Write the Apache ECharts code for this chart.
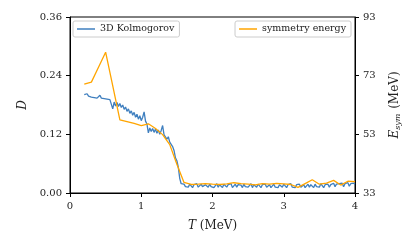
<!DOCTYPE html>
<html><head><meta charset="utf-8">
<script src="https://cdn.jsdelivr.net/npm/echarts@6/dist/echarts.min.js"></script>
<style>html,body{margin:0;padding:0;background:#fff}#c{width:416px;height:252px}</style>
</head><body><div id="c"></div>
<script>
// Kolmogorov D values, T from 0.20 to 4.00 step 0.02
var kolmoStart = 0.2, kolmoStep = 0.02;
var kolmoD = [
0.201,0.197,0.203,0.198,0.201,0.196,0.200,0.195,0.199,0.194,
0.198,0.200,0.194,0.198,0.193,0.197,0.192,0.196,0.191,0.189,
0.172,0.186,0.178,0.185,0.177,0.183,0.175,0.180,0.171,0.176,
0.167,0.172,0.163,0.168,0.159,0.165,0.155,0.161,0.151,0.158,
0.148,0.155,0.166,0.147,0.141,0.123,0.133,0.126,0.132,0.124,
0.131,0.122,0.129,0.120,0.128,0.138,0.119,0.118,0.110,0.115,
0.104,0.105,0.095,0.087,0.072,0.066,0.053,0.030,0.019,0.015,
0.018,0.013,0.017,0.012,0.018,0.015,0.011,0.017,0.013,0.019,
0.012,0.015,0.018,0.013,0.011,0.017,0.015,0.012,0.018,0.013,
0.017,0.011,0.015,0.019,0.012,0.017,0.013,0.011,0.018,0.015,
0.012,0.017,0.013,0.019,0.011,0.015,0.018,0.012,0.017,0.013,
0.016,0.011,0.018,0.013,0.017,0.012,0.015,0.019,0.011,0.017,
0.013,0.012,0.018,0.015,0.011,0.017,0.013,0.018,0.012,0.015,
0.017,0.011,0.014,0.018,0.012,0.015,0.011,0.017,0.013,0.012,
0.018,0.015,0.011,0.017,0.013,0.019,0.012,0.015,0.011,0.017,
0.013,0.018,0.012,0.015,0.017,0.011,0.014,0.018,0.012,0.017,
0.015,0.011,0.018,0.013,0.017,0.012,0.019,0.015,0.011,0.017,
0.013,0.018,0.012,0.017,0.015,0.020,0.013,0.018,0.014,0.019,
0.015,0.020,0.013,0.019,0.015,0.021,0.014,0.019,0.016,0.020,
0.018
];
// Symmetry energy (MeV), T from 0.2 to 4.0 step 0.1
var symStart = 0.2, symStep = 0.1;
var symE = [
70.1,70.8,75.9,81.0,69.5,57.9,57.3,56.7,56.0,56.6,
55.0,52.9,49.5,42.8,36.6,35.9,36.0,36.2,36.0,35.9,
36.1,36.5,36.2,36.0,35.8,36.2,36.0,36.3,36.1,35.9,
34.9,36.2,37.5,36.0,36.4,37.3,35.7,37.0,36.9
];
var xTicks = [0,1,2,3,4];
var leftTicks = [0,0.12,0.24,0.36];
var rightTicks = [33,53,73,93];

function pairs(start, step, vals){
  return vals.map(function(v,i){ return [+(start + i*step).toFixed(3), v]; });
}
var FONT = 'DejaVu Serif';
var chart = echarts.init(document.getElementById('c'), null, {renderer:'canvas'});
var axisCommon = {
  axisLine:{show:true, lineStyle:{color:'#000', width:1}},
  axisTick:{show:true, inside:false, length:4, lineStyle:{color:'#000'}},
  axisLabel:{color:'#222', fontFamily:FONT, fontSize:10},
  splitLine:{show:false}
};
chart.setOption({
  animation:false,
  grid:{left:70, right:61, top:17, bottom:59, show:true, borderColor:'#000', borderWidth:1},
  legend:[
    {data:['3D Kolmogorov'], left:73, top:21, orient:'horizontal',
     icon:'rect', itemWidth:18, itemHeight:1.5, itemGap:6,
     padding:[3,5,3,4], borderColor:'#ccc', borderWidth:1, borderRadius:2,
     textStyle:{fontFamily:FONT, fontSize:9.5, color:'#222'}},
    {data:['symmetry energy'], right:65, top:21, orient:'horizontal',
     icon:'rect', itemWidth:18, itemHeight:1.5, itemGap:6,
     padding:[3,5,3,4], borderColor:'#ccc', borderWidth:1, borderRadius:2,
     textStyle:{fontFamily:FONT, fontSize:9.5, color:'#222'}}
  ],
  xAxis:Object.assign({}, axisCommon, {
    type:'value', min:xTicks[0], max:xTicks[xTicks.length-1], interval:1,
    name:'{i|T} (MeV)', nameLocation:'middle', nameGap:27,
    nameTextStyle:{fontFamily:FONT, fontSize:12, color:'#222',
      rich:{i:{fontFamily:FONT, fontStyle:'italic', fontSize:12, color:'#222'}}}
  }),
  yAxis:[
    Object.assign({}, axisCommon, {
      type:'value', min:leftTicks[0], max:leftTicks[leftTicks.length-1], interval:0.12,
      axisLabel:{color:'#222', fontFamily:FONT, fontSize:10, formatter:function(v){return v.toFixed(2);}},
      name:'D', nameLocation:'middle', nameGap:41, nameRotate:90,
      nameTextStyle:{fontFamily:FONT, fontStyle:'italic', fontSize:12, color:'#222'}
    }),
    Object.assign({}, axisCommon, {
      type:'value', position:'right', min:rightTicks[0], max:rightTicks[rightTicks.length-1], interval:20,
      name:'{i|E}{s|sym} (MeV)', nameLocation:'middle', nameGap:33, nameRotate:90,
      nameTextStyle:{fontFamily:FONT, fontSize:12, color:'#222',
        rich:{i:{fontFamily:FONT, fontStyle:'italic', fontSize:12, color:'#222'},
              s:{fontFamily:FONT, fontStyle:'italic', fontSize:8, color:'#222', padding:[6,1,0,0]}}}
    })
  ],
  series:[
    {name:'3D Kolmogorov', type:'line', yAxisIndex:0, showSymbol:false, symbol:'none',
     data:pairs(kolmoStart, kolmoStep, kolmoD), lineStyle:{color:'#3f7fbf', width:1.3}, itemStyle:{color:'#3f7fbf'}},
    {name:'symmetry energy', type:'line', yAxisIndex:1, showSymbol:false, symbol:'none',
     data:pairs(symStart, symStep, symE), lineStyle:{color:'#ffa500', width:1.3}, itemStyle:{color:'#ffa500'}}
  ]
});
</script></body></html>
